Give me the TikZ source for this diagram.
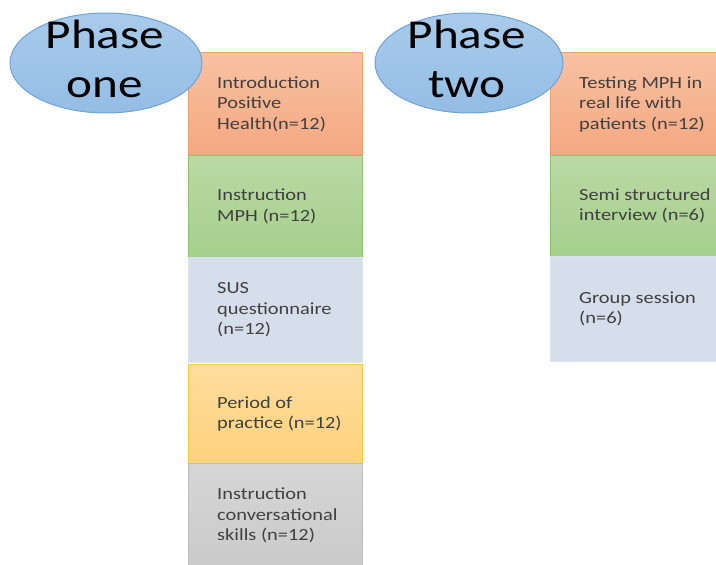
\documentclass[tikz,border=0pt]{standalone}
\usepackage{fontspec}
\setmainfont{Carlito}[FakeStretch=1.2]
\usetikzlibrary{shapes.geometric}
\definecolor{orTop}{HTML}{F8C1A3}
\definecolor{orBot}{HTML}{F4A880}
\definecolor{orLine}{HTML}{F4A06A}
\definecolor{grTop}{HTML}{BAD9A6}
\definecolor{grBot}{HTML}{A6CF8B}
\definecolor{grLine}{HTML}{8DC26E}
\definecolor{blFill}{HTML}{D6DDEB}
\definecolor{blLine}{HTML}{DCE3F0}
\definecolor{yeTop}{HTML}{FFDD9E}
\definecolor{yeBot}{HTML}{FFD27C}
\definecolor{yeLine}{HTML}{FFC73A}
\definecolor{gyTop}{HTML}{D6D6D6}
\definecolor{gyBot}{HTML}{CACACA}
\definecolor{gyLine}{HTML}{BDBDBD}
\definecolor{elTop}{HTML}{A9CBEB}
\definecolor{elBot}{HTML}{94BDE4}
\definecolor{elLine}{HTML}{6FA3D8}
\definecolor{txt}{HTML}{404040}
\begin{document}
\begin{tikzpicture}[x=1pt,y=-1pt,
  box/.style={rectangle, anchor=north west, line width=1pt, inner sep=0pt},
  btext/.style={anchor=west, align=left, inner sep=0pt, text=txt,
    font=\fontsize{17}{20.5}\selectfont},
  phase/.style={ellipse, draw=elLine, line width=1pt, top color=elTop, bottom color=elBot,
    minimum width=192pt, minimum height=100pt, inner sep=0pt},
  phasetext/.style={align=center, inner sep=0pt, text=black,
    font=\fontsize{41}{49}\selectfont}]
\useasboundingbox (0,0) rectangle (716,565);
\fill[white] (0,0) rectangle (716,565);
% column one
\node[box, draw=orLine, top color=orTop, bottom color=orBot, minimum width=174pt, minimum height=103pt] (a1) at (188,52) {};
\node[box, draw=grLine, top color=grTop, bottom color=grBot, minimum width=174pt, minimum height=102pt] (a2) at (188,155) {};
\node[box, draw=blLine, fill=blFill, minimum width=174pt, minimum height=105pt] (a3) at (188,257) {};
\node[box, draw=yeLine, top color=yeTop, bottom color=yeBot, minimum width=174pt, minimum height=99pt] (a4) at (188,364) {};
\node[box, draw=gyLine, top color=gyTop, bottom color=gyBot, minimum width=174pt, minimum height=104pt] (a5) at (188,463) {};
\node[btext] (ta1) at ([xshift=29pt]a1.west) {Introduction\\Positive\\Health(n=12)};
\node[btext] (ta2) at ([xshift=29pt]a2.west) {Instruction\\MPH (n=12)};
\node[btext] (ta3) at ([xshift=29pt]a3.west) {SUS\\questionnaire\\(n=12)};
\node[btext] (ta4) at ([xshift=29pt]a4.west) {Period of\\practice (n=12)};
\node[btext] (ta5) at ([xshift=29pt]a5.west) {Instruction\\conversational\\skills (n=12)};
% column two
\node[box, draw=orLine, top color=orTop, bottom color=orBot, minimum width=172pt, minimum height=103pt] (b1) at (550,52) {};
\node[box, draw=grLine, top color=grTop, bottom color=grBot, minimum width=172pt, minimum height=101pt] (b2) at (550,155) {};
\node[box, draw=blLine, fill=blFill, minimum width=172pt, minimum height=105pt] (b3) at (550,256) {};
\node[btext] (tb1) at ([xshift=29pt]b1.west) {Testing MPH in\\real life with\\patients (n=12)};
\node[btext] (tb2) at ([xshift=29pt]b2.west) {Semi structured\\interview (n=6)};
\node[btext] (tb3) at ([xshift=29pt]b3.west) {Group session\\(n=6)};
% phase ellipses
\node[phase] (e1) at (106,63) {};
\node[phasetext] (p1) at (105,59) {Phase\\one};
\node[phase, minimum width=188pt] (e2) at (469,63) {};
\node[phasetext] (p2) at (467,59) {Phase\\two};
\end{tikzpicture}
\end{document}
